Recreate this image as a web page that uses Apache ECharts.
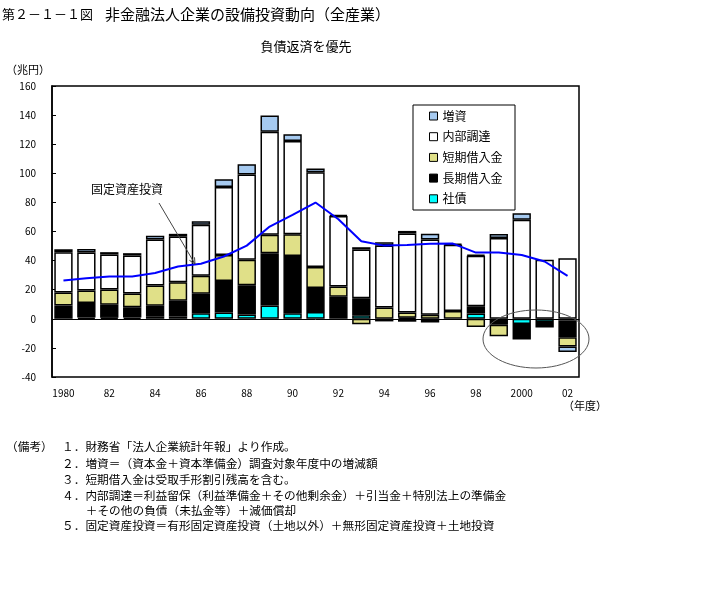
<!DOCTYPE html>
<html><head><meta charset="utf-8">
<script src="https://cdn.jsdelivr.net/npm/echarts@6/dist/echarts.min.js"></script>
<style>html,body{margin:0;padding:0;background:#fff}#c{width:712px;height:589px}</style>
</head><body><div id="c"></div>
<script>
// ---- data (兆円) ----
const categories = ['1980','81','82','83','84','85','86','87','88','89','90','91','92','93','94','95','96','97','98','99','2000','01','02'];
const bonds      = [0, 0.9, 0.8, 0.9, 1.4, 1.6, 3.8, 4.3, 3.0, 9.2, 3.9, 4.6, 0, 2.4, 0, -2.0, 0, 0, 3.6, 0, -3.5, -2.2, -1.2];          // 社債
const longLoans  = [9.2, 9.9, 8.8, 7.1, 7.5, 10.8, 13.4, 21.6, 20.1, 35.9, 39.3, 16.5, 15.1, 11.8, -1.8, 0.7, -2.5, 0, 5.0, -4.1, -10.7, -3.8, -11.4]; // 長期借入金
const shortLoans = [8.8, 8.7, 10.5, 9.4, 14.0, 12.8, 12.4, 18.0, 17.4, 12.6, 14.9, 14.5, 7.1, -3.7, 7.8, 3.6, 2.8, 5.3, -5.7, -7.9, 0, 0, -6.4];   // 短期借入金
const internal   = [27.8, 26.1, 24.1, 26.1, 31.6, 31.3, 35.0, 46.7, 58.6, 70.9, 64.1, 65.2, 48.4, 33.4, 42.5, 54.3, 51.7, 45.6, 34.7, 55.5, 68.0, 40.5, 41.6]; // 内部調達
const equity     = [2.0, 2.3, 1.6, 1.6, 2.5, 1.9, 2.5, 5.3, 7.1, 11.2, 4.6, 2.5, 0.7, 1.6, 2.3, 1.8, 3.9, 0.8, 0.6, 2.8, 4.5, 0, -3.9];  // 増資
const fixedInv   = [26.3, 27.9, 29.1, 29.1, 31.5, 36.0, 37.8, 42.8, 50.3, 63.4, 71.4, 79.9, 68.4, 53.3, 50.3, 50.8, 51.5, 51.7, 45.5, 45.5, 43.9, 39.4, 29.5]; // 固定資産投資
const legendOrder = ['増資','内部調達','短期借入金','長期借入金','社債'];
const notes = [
  '１．財務省「法人企業統計年報」より作成。',
  '２．増資＝（資本金＋資本準備金）調査対象年度中の増減額',
  '３．短期借入金は受取手形割引残高を含む。',
  '４．内部調達＝利益留保（利益準備金＋その他剰余金）＋引当金＋特別法上の準備金',
  '　＋その他の負債（未払金等）＋減価償却',
  '５．固定資産投資＝有形固定資産投資（土地以外）＋無形固定資産投資＋土地投資'
];

const F = '"Noto Sans CJK JP", sans-serif';
const nz = a => a.map(v => v === 0 ? '-' : v);
function barSeries(name, data, color) {
  return { name, type: 'bar', stack: 'total', data: nz(data), barWidth: '80%',
    itemStyle: { color, borderColor: '#000', borderWidth: 1.5 }, emphasis: { disabled: true } };
}
function txt(text, x, y, size, align) {
  return { type: 'text', x, y, z: 20, style: { text, fontSize: size, fontFamily: F, fill: '#000',
    align: align || 'left', verticalAlign: 'middle' } };
}
const noteY = [447, 464, 480, 496, 511, 526];
const noteX = [62, 62, 62, 62, 74, 62];
const graphics = [
  txt('第２－１－１図', 2, 14, 13),
  txt('非金融法人企業の設備投資動向（全産業）', 105, 14, 15),
  txt('負債返済を優先', 306, 46, 13, 'center'),
  txt('（兆円）', 6, 70, 11),
  txt('（年度）', 563, 406, 11),
  txt('固定資産投資', 91, 189, 12),
  txt('（備考）', 6, 447, 11.7),
  { type: 'rect', z: 1, shape: { x: 413, y: 105, width: 102, height: 105 }, style: { fill: '#fff', stroke: '#000', lineWidth: 1 } },
  { type: 'ellipse', z: 30, shape: { cx: 536, cy: 339, rx: 53, ry: 29 }, style: { fill: 'none', stroke: '#555', lineWidth: 1 } },
  { type: 'line', z: 30, shape: { x1: 159, y1: 203, x2: 195, y2: 264 }, style: { stroke: '#444', lineWidth: 1 } },
  { type: 'polyline', z: 30, shape: { points: [[189.4, 260.3], [195, 264], [194.5, 257.3]] }, style: { fill: 'none', stroke: '#444', lineWidth: 1 } }
];
notes.forEach((t, i) => graphics.push(txt(t, noteX[i], noteY[i], 11.7)));

const chart = echarts.init(document.getElementById('c'));
chart.setOption({
  animation: false,
  grid: { left: 52, right: 133, top: 86, bottom: 212, show: true, borderColor: '#000', borderWidth: 1.5 },
  xAxis: [
    { type: 'category', data: categories, position: 'bottom',
      axisLine: { onZero: true, lineStyle: { color: '#000', width: 1 } },
      axisTick: { inside: true, length: 3, interval: 0, lineStyle: { color: '#000' } },
      axisLabel: { show: false } },
    { type: 'category', data: categories, position: 'bottom',
      axisLine: { show: false, onZero: false }, axisTick: { show: false },
      axisLabel: { interval: 1, fontSize: 10, color: '#000', margin: 11, fontFamily: F } }
  ],
  yAxis: { type: 'value', min: -40, max: 160, interval: 20,
    axisLine: { show: true, lineStyle: { color: '#000', width: 1.5 } },
    axisTick: { show: true, inside: true, length: 4, lineStyle: { color: '#000' } },
    splitLine: { show: false },
    axisLabel: { fontSize: 10, color: '#000', margin: 16, fontFamily: F } },
  legend: { orient: 'vertical', left: 429, top: 110, padding: 0, itemWidth: 8, itemHeight: 8, itemGap: 8.7,
    data: legendOrder, selectedMode: false, icon: 'rect',
    itemStyle: { borderWidth: 1 },
    textStyle: { fontSize: 12, fontFamily: F, color: '#000', lineHeight: 12 } },
  series: [
    barSeries('社債', bonds, '#00FFFF'),
    barSeries('長期借入金', longLoans, '#000000'),
    barSeries('短期借入金', shortLoans, '#E0E088'),
    barSeries('内部調達', internal, '#FFFFFF'),
    barSeries('増資', equity, '#A6CAF0'),
    { name: '固定資産投資', type: 'line', data: fixedInv, symbol: 'none', z: 5,
      lineStyle: { color: '#0000FF', width: 2 }, emphasis: { disabled: true } }
  ],
  graphic: graphics
});
</script>
</body></html>
